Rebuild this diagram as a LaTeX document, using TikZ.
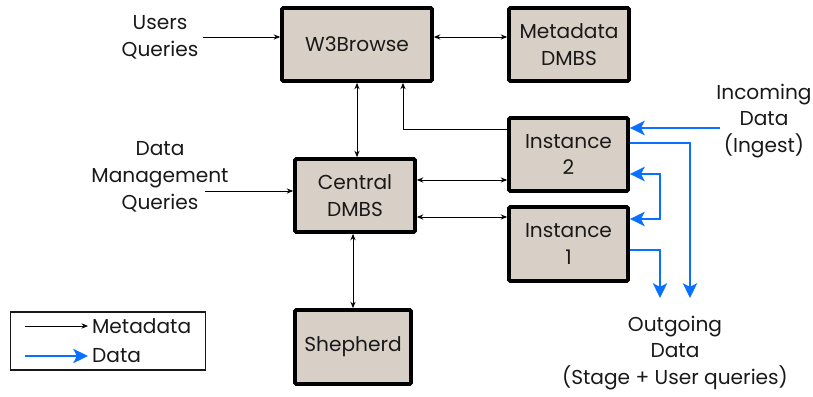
\documentclass[tikz,border=0pt]{standalone}
\usepackage{fontspec}
\setmainfont{Poppins}
\usetikzlibrary{arrows.meta, calc}
\definecolor{boxfill}{RGB}{216,208,198}
\definecolor{datablue}{RGB}{10,112,255}
\definecolor{inkgray}{RGB}{25,25,25}

\begin{document}
\begin{tikzpicture}[x=0.03cm, y=-0.03cm,
  every node/.style={text=inkgray, font=\fontsize{17.2}{23}\selectfont, align=center},
  block/.style={draw=black, line width=3.2pt, fill=boxfill, rounded corners=1pt, inner sep=0pt},
  meta/.style={black, line width=0.8pt, -{Stealth[length=5.5pt, width=4.5pt]}},
  metaboth/.style={meta, {Stealth[length=5.5pt, width=4.5pt]}-{Stealth[length=5.5pt, width=4.5pt]}},
  data/.style={datablue, line width=2.4pt, -{Stealth[length=12.5pt, width=12pt, inset=3pt]}},
  databoth/.style={data, {Stealth[length=12.5pt, width=12pt, inset=3pt]}-{Stealth[length=12.5pt, width=12pt, inset=3pt]}}]
\useasboundingbox (0,0) rectangle (813,397);
% boxes
\node[block, minimum width=4.5cm, minimum height=2.19cm] (w3) at (357,44.5) {W3Browse};
\node[block, minimum width=3.6cm, minimum height=2.19cm] (mdb) at (569,44.5) {Metadata\\DMBS};
\node[block, minimum width=3.6cm, minimum height=2.19cm] (cdb) at (355,195.5) {Central\\DMBS};
\node[block, minimum width=3.57cm, minimum height=2.19cm] (in2) at (568.5,154.5) {Instance\\2};
\node[block, minimum width=3.57cm, minimum height=2.22cm] (in1) at (568.5,244) {Instance\\1};
\node[block, minimum width=3.48cm, minimum height=2.22cm] (shp) at (353,347) {Shepherd};
% outside texts
\node (uq) at (160,37) {Users\\Queries};
\node (dmq) at (160,177) {Data\\Management\\Queries};
\coordinate (dmqa) at (205,191);
\node (inc) at (764,121) {Incoming\\Data\\(Ingest)};
\node (outg) at (675,353) {Outgoing\\Data\\(Stage + User queries)};
% metadata links
\draw[meta] (uq.east) -- (w3.west |- uq.east);
\draw[meta] (dmqa) -- (cdb.west |- dmqa);
\draw[metaboth] (w3.east |- 0,37) -- (mdb.west |- 0,37);
\draw[metaboth] (w3.south) -- (w3.south |- cdb.north);
\draw[metaboth] (shp.north) -- (shp.north |- cdb.south);
\draw[meta] (in2.west |- 0,129) -| (w3.south -| 403,0);
\draw[metaboth] (cdb.east |- 0,180) -- (in2.west |- 0,180);
\draw[metaboth] (cdb.east |- 0,217) -- (in1.west |- 0,217);
% data links
\coordinate (ingest) at (720,128);
\coordinate (loop) at (660,174);
\coordinate (out1) at (660,298);
\coordinate (out2) at (690,298);
\draw[data] (ingest) -- (in2.east |- ingest);
\draw[data] (in2.east |- 0,143) -| (out2);
\draw[data] (in1.east |- 0,250) -| (out1);
\draw[databoth] (in2.east |- loop) -- (loop) -- (loop |- 0,219) -- (in1.east |- 0,219);
% legend
\node[draw=inkgray, line width=1.2pt, minimum width=5.85cm, minimum height=1.74cm, inner sep=0pt] (leg) at (108,341) {};
\node[anchor=west] (lmeta) at (88,326) {Metadata};
\node[anchor=west] (ldata) at (88,356) {Data};
\coordinate (lm) at (25,326);
\coordinate (ld) at (25,356);
\draw[meta] (lm) -- (lmeta.west);
\draw[data] (ld) -- (ldata.west);
\end{tikzpicture}
\end{document}
